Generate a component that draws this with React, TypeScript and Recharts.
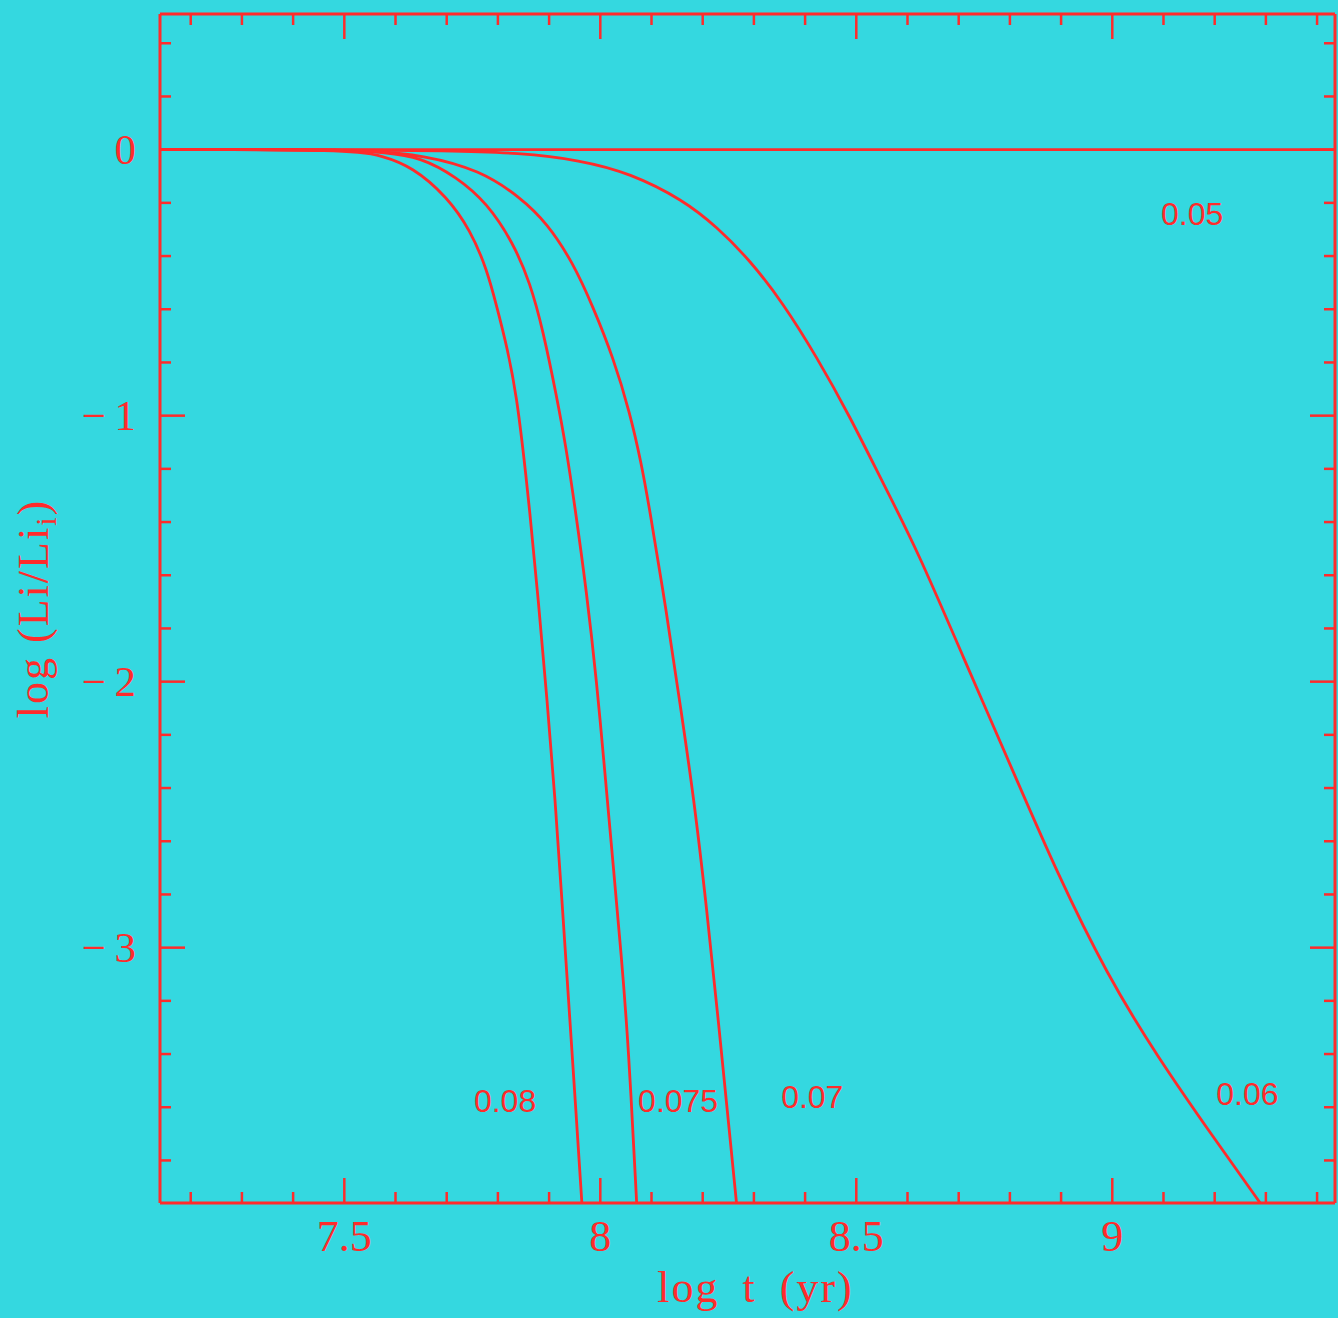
import { LineChart, Line, XAxis, YAxis, ReferenceDot, Label } from "recharts";

const RED = "#ff2b2b";
const CYAN = "#34d8e0";
const SERIF = "'Liberation Serif', 'Times New Roman', serif";
const SANS = "'Liberation Sans', Arial, sans-serif";

// Lithium depletion tracks: log t (yr) vs log(Li/Li_i), one pair of arrays per mass
const logT005 = [7.14, 7.8, 8.5, 9.2, 9.435];
const logLi005 = [0, 0, 0, 0, 0];

const logT006 = [7.14, 7.5, 7.7, 7.843, 7.96, 8.058, 8.162, 8.228, 8.292, 8.357, 8.423, 8.488, 8.552, 8.619, 8.708, 8.806, 8.892, 8.99, 9.087, 9.197, 9.289];
const logLi006 = [0, 0, -0.004, -0.012, -0.039, -0.088, -0.189, -0.291, -0.415, -0.577, -0.78, -1.005, -1.253, -1.505, -1.904, -2.336, -2.719, -3.103, -3.407, -3.712, -3.96];

const logT007 = [7.14, 7.45, 7.55, 7.654, 7.765, 7.843, 7.896, 7.947, 7.986, 8.025, 8.058, 8.08, 8.095, 8.13, 8.156, 8.182, 8.208, 8.231, 8.253, 8.266];
const logLi007 = [0, 0, -0.004, -0.02, -0.077, -0.178, -0.276, -0.426, -0.592, -0.78, -0.99, -1.178, -1.336, -1.746, -2.088, -2.426, -2.855, -3.283, -3.708, -3.96];

const logT0075 = [7.14, 7.4, 7.5, 7.58, 7.648, 7.72, 7.779, 7.83, 7.863, 7.888, 7.915, 7.933, 7.95, 7.973, 7.993, 8.009, 8.025, 8.041, 8.055, 8.071];
const logLi0075 = [0, 0, -0.002, -0.01, -0.028, -0.103, -0.201, -0.351, -0.501, -0.678, -0.93, -1.118, -1.336, -1.659, -2.001, -2.343, -2.686, -3.028, -3.366, -3.96];

const logT008 = [7.14, 7.35, 7.47, 7.53, 7.57, 7.634, 7.701, 7.746, 7.779, 7.798, 7.818, 7.837, 7.852, 7.861, 7.879, 7.896, 7.912, 7.925, 7.938, 7.951, 7.964];
const logLi008 = [0, 0, -0.003, -0.01, -0.02, -0.065, -0.178, -0.302, -0.452, -0.592, -0.742, -0.93, -1.178, -1.336, -1.693, -2.069, -2.445, -2.821, -3.197, -3.573, -3.96];

const tracks = [
  { mass: "0.05", t: logT005, li: logLi005, tag: [9.156, -0.241] },
  { mass: "0.06", t: logT006, li: logLi006, tag: [9.264, -3.548] },
  { mass: "0.07", t: logT007, li: logLi007, tag: [8.414, -3.559] },
  { mass: "0.075", t: logT0075, li: logLi0075, tag: [8.152, -3.574] },
  { mass: "0.08", t: logT008, li: logLi008, tag: [7.814, -3.574] },
];

const xTicks = [7.2, 7.3, 7.4, 7.5, 7.6, 7.7, 7.8, 7.9, 8, 8.1, 8.2, 8.3, 8.4, 8.5, 8.6, 8.7, 8.8, 8.9, 9, 9.1, 9.2, 9.3, 9.4];
const xLabelled = [7.5, 8, 8.5, 9];
const yTicks = [0.4, 0.2, 0, -0.2, -0.4, -0.6, -0.8, -1, -1.2, -1.4, -1.6, -1.8, -2, -2.2, -2.4, -2.6, -2.8, -3, -3.2, -3.4, -3.6, -3.8];
const yLabelled = [0, -1, -2, -3];

const X_DOMAIN: [number, number] = [7.14, 9.435];
const Y_DOMAIN: [number, number] = [-3.96, 0.51];

const MAJOR = 25;
const MINOR = 11;
const has = (list: number[], v: number) => list.some((m) => Math.abs(m - v) < 1e-6);
const yText = (v: number) => (v === 0 ? "0" : "\u2212\u2009" + Math.abs(v));

function BottomTick({ x, y, payload }: any) {
  const major = has(xLabelled, payload.value);
  return (
    <g>
      <line x1={x} y1={y} x2={x} y2={y - (major ? MAJOR : MINOR)} stroke={RED} strokeWidth={2.5} />
      {major && (
        <text x={x} y={y + 48} textAnchor="middle" fill={RED} fontSize={44} fontFamily={SERIF}>
          {String(payload.value)}
        </text>
      )}
    </g>
  );
}

function TopTick({ x, y, payload }: any) {
  const major = has(xLabelled, payload.value);
  return <line x1={x} y1={y} x2={x} y2={y + (major ? MAJOR : MINOR)} stroke={RED} strokeWidth={2.5} />;
}

function LeftTick({ x, y, payload }: any) {
  const major = has(yLabelled, payload.value);
  return (
    <g>
      <line x1={x} y1={y} x2={x + (major ? MAJOR : MINOR)} y2={y} stroke={RED} strokeWidth={2.5} />
      {major && (
        <text x={x - 24} y={y + 14} textAnchor="end" fill={RED} fontSize={43} fontFamily={SERIF}>
          {yText(payload.value)}
        </text>
      )}
    </g>
  );
}

function RightTick({ x, y, payload }: any) {
  const major = has(yLabelled, payload.value);
  return <line x1={x} y1={y} x2={x - (major ? MAJOR : MINOR)} y2={y} stroke={RED} strokeWidth={2.5} />;
}

function XTitle({ viewBox }: any) {
  const cx = viewBox.x + viewBox.width / 2 + 8;
  return (
    <text x={cx} y={viewBox.y + 99} textAnchor="middle" fill={RED} fontSize={44} fontFamily={SERIF} letterSpacing={2} wordSpacing={10}>
      log t (yr)
    </text>
  );
}

function YTitle({ viewBox }: any) {
  const cy = viewBox.y + viewBox.height / 2;
  const bx = 48;
  return (
    <text x={bx} y={cy} transform={`rotate(-90 ${bx} ${cy})`} textAnchor="middle" fill={RED} fontSize={44} fontFamily={SERIF} letterSpacing={2}>
      log (Li/Li
      <tspan fontSize={30} dy={8}>i</tspan>
      <tspan dy={-8}>)</tspan>
    </text>
  );
}

const axisLine = { stroke: RED, strokeWidth: 3 };

export default function App() {
  return (
    <div style={{ position: "absolute", left: 0, top: 0, width: 1338, height: 1318, background: CYAN }}>
      <LineChart width={1338} height={1318} margin={{ top: 13, right: 2, bottom: 0, left: 0 }}>
        <XAxis
          xAxisId={0}
          type="number"
          dataKey="x"
          domain={X_DOMAIN}
          allowDataOverflow
          ticks={xTicks}
          interval={0}
          height={115}
          tickSize={0}
          tickMargin={0}
          tickLine={false}
          axisLine={axisLine}
          tick={<BottomTick />}
        >
          <Label content={<XTitle />} />
        </XAxis>
        <XAxis
          xAxisId="top"
          orientation="top"
          type="number"
          dataKey="x"
          domain={X_DOMAIN}
          allowDataOverflow
          ticks={xTicks}
          interval={0}
          height={1}
          tickSize={0}
          tickMargin={0}
          tickLine={false}
          axisLine={axisLine}
          tick={<TopTick />}
        />
        <YAxis
          yAxisId={0}
          type="number"
          domain={Y_DOMAIN}
          allowDataOverflow
          ticks={yTicks}
          interval={0}
          width={160}
          tickSize={0}
          tickMargin={0}
          tickLine={false}
          axisLine={axisLine}
          tick={<LeftTick />}
        >
          <Label content={<YTitle />} />
        </YAxis>
        <YAxis
          yAxisId="right"
          orientation="right"
          type="number"
          domain={Y_DOMAIN}
          allowDataOverflow
          ticks={yTicks}
          interval={0}
          width={1}
          tickSize={0}
          tickMargin={0}
          tickLine={false}
          axisLine={axisLine}
          tick={<RightTick />}
        />
        {tracks.map((tr) => (
          <Line
            key={tr.mass}
            xAxisId={0}
            yAxisId={0}
            data={tr.t.map((t, i) => ({ x: t, y: tr.li[i] }))}
            dataKey="y"
            type="basis"
            stroke={RED}
            strokeWidth={2.8}
            dot={false}
            activeDot={false}
            isAnimationActive={false}
          />
        ))}
        {tracks.map((tr) => (
          <ReferenceDot
            key={"tag" + tr.mass}
            xAxisId={0}
            yAxisId={0}
            x={tr.tag[0]}
            y={tr.tag[1]}
            r={0}
            fill="none"
            stroke="none"
            label={{ value: tr.mass, position: "center", fill: RED, fontSize: 32, fontFamily: SANS }}
          />
        ))}
      </LineChart>
    </div>
  );
}
